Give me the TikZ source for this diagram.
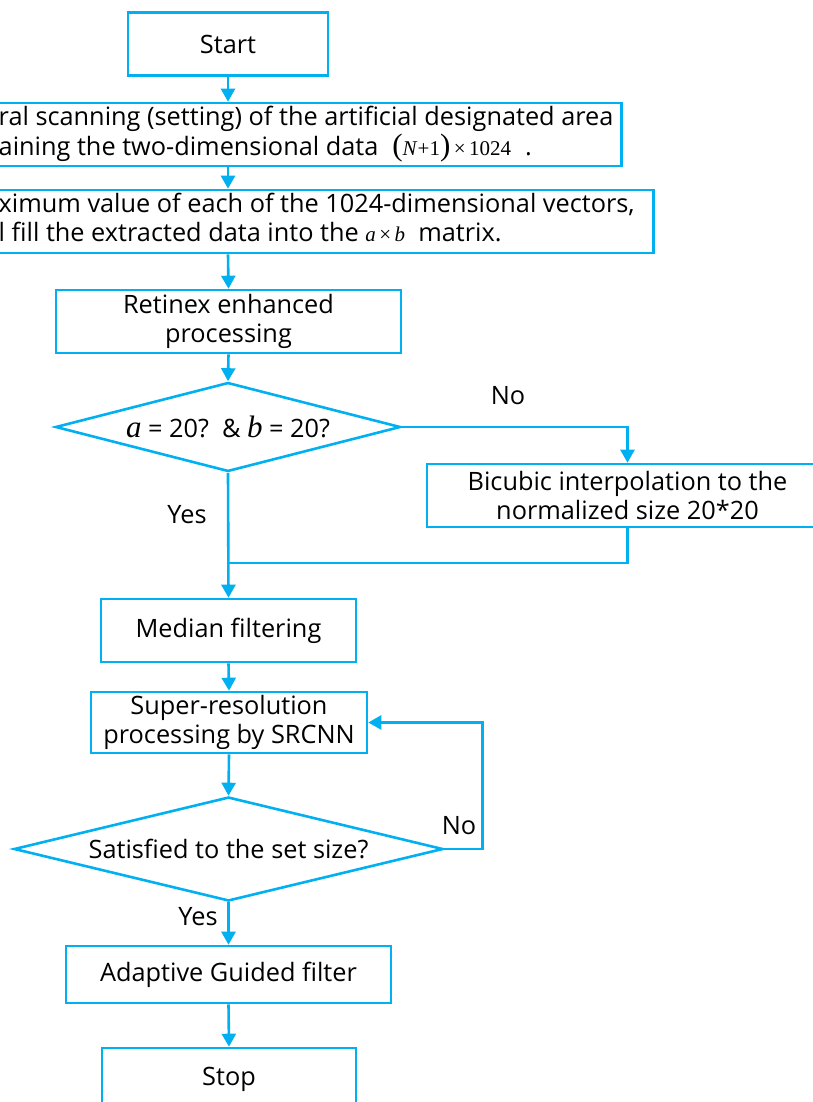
\documentclass[tikz,border=0pt]{standalone}
\usepackage{fontspec}
\setmainfont{Open Sans}
\newfontfamily\tnr{Liberation Serif}
\usepackage{tikz}
\usetikzlibrary{arrows.meta,shapes.geometric,positioning}
\definecolor{fcblue}{RGB}{0,176,240}
\tikzstyle{process} = [rectangle, minimum height=63pt, inner sep=0pt, align=center, draw=fcblue, line width=2.6pt]
\tikzstyle{decision} = [diamond, aspect=3.9, inner sep=0pt, align=center, draw=fcblue, line width=2.6pt]
\tikzstyle{arrow} = [line width=2.6pt, -{Triangle[length=13pt,width=14pt]}, color=fcblue]
\tikzstyle{link} = [line width=2.6pt, color=fcblue]
\tikzstyle{answer} = [inner sep=0pt]
\newcommand{\mvar}[1]{{\tnr\itshape\fontsize{31}{31}\selectfont #1}}
\newcommand{\msmall}[1]{{\tnr\fontsize{21}{21}\selectfont #1}}
\newcommand{\bigpar}[1]{{\tnr\fontsize{31}{31}\selectfont #1}}

\begin{document}
\begin{tikzpicture}[x=1pt, y=-1pt, font=\fontsize{25.3}{29}\selectfont]
\useasboundingbox (0,0) rectangle (813,1102);
% Main column
\node[process, minimum width=200pt] (start) at (228,44) {Start};
\node[process, anchor=east, inner xsep=10pt] (scan) at (623,134.5) {\makebox[613pt][l]{\begin{tabular}{@{}l@{}}
ral scanning (setting) of the artificial designated area\\
aining the two-dimensional data\hspace{14pt}\msmall{\bigpar{(}\textit{N}+1\bigpar{)}\,×\,1024}\hspace{14pt}.
\end{tabular}}};
\node[process, anchor=east, inner xsep=23pt] (maxval) at (655,221.5) {\makebox[632pt][l]{\begin{tabular}{@{}l@{}}
ximum value of each of the 1024-dimensional vectors,\\
l fill the extracted data into the \msmall{\textit{a}\,×\,\textit{b}}\ \ matrix.
\end{tabular}}};
\node[process, minimum width=345pt] (retinex) at (228.5,321.5) {Retinex enhanced\\processing};
\node[decision, minimum width=345pt, minimum height=89pt] (dec1) at (228,427) {\mvar{a} = 20?\ \ \& \mvar{b} = 20?};
\node[process, minimum width=401pt] (bicubic) at (627.5,495.5) {Bicubic interpolation to the\\normalized size 20*20};
\node[process, minimum width=255pt] (median) at (228.5,630.5) {Median filtering};
\node[process, minimum width=276pt, minimum height=61pt] (srcnn) at (229,722.5) {Super-resolution\\processing by SRCNN};
\node[decision, minimum width=429pt, minimum height=104pt] (dec2) at (228.5,849) {Satisfied to the set size?};
\node[process, minimum width=325pt, minimum height=57pt] (guided) at (228.5,974.5) {Adaptive Guided filter};
\node[process, minimum width=254pt] (stop) at (229,1079.5) {Stop};

% Answers
\node[answer] (no1) at (508,396) {No};
\node[answer] (yes1) at (187,515) {Yes};
\node[answer] (no2) at (459,826) {No};
\node[answer] (yes2) at (198,917) {Yes};
\coordinate (merge) at (228,563);

% Flows
\draw[arrow] (start.south) -- (start.south |- scan.north);
\draw[arrow] (start.south |- scan.south) -- (start.south |- maxval.north);
\draw[arrow] (start.south |- maxval.south) -- (retinex.north);
\draw[arrow] (retinex.south) -- (dec1.north);
\draw[arrow] (dec1.east) -| (bicubic.north);
\draw[link] (bicubic.south) |- (merge);
\draw[arrow] (dec1.south) -- (median.north);
\draw[arrow] (median.south) -- (srcnn.north);
\draw[arrow] (srcnn.south) -- (dec2.north);
\draw[arrow] (dec2.east) -- ++(38,0) |- (srcnn.east);
\draw[arrow] (dec2.south) -- (guided.north);
\draw[arrow] (guided.south) -- (stop.north);
\end{tikzpicture}
\end{document}
